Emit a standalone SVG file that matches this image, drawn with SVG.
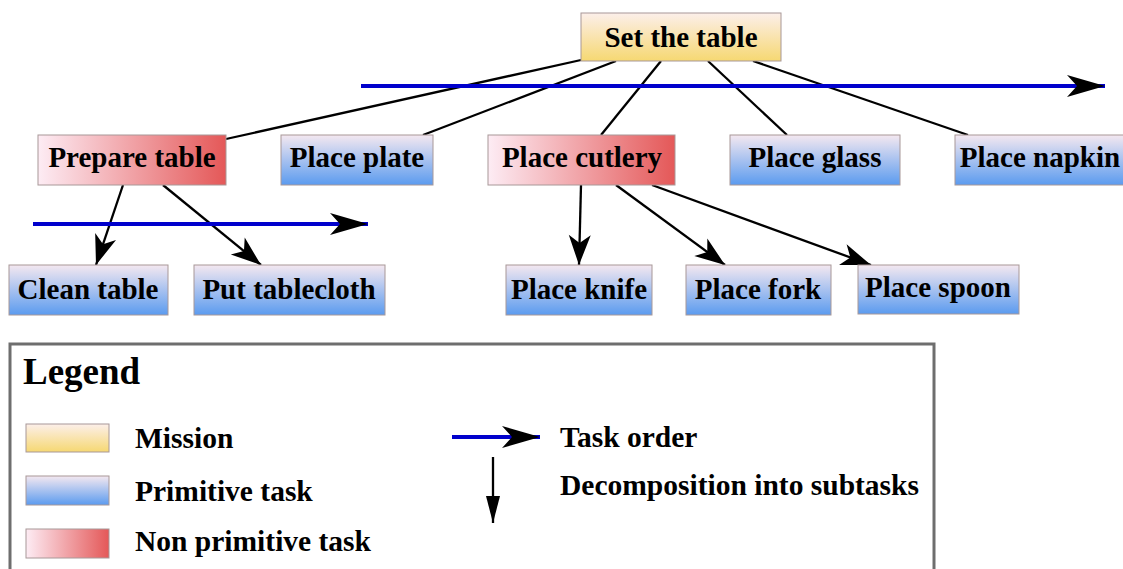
<svg xmlns="http://www.w3.org/2000/svg" width="1123" height="569" viewBox="0 0 1123 569">
  <defs>
    <linearGradient id="gMission" x1="0" y1="0" x2="0" y2="1">
      <stop offset="0" stop-color="#fcefea"/>
      <stop offset="1" stop-color="#f6d872"/>
    </linearGradient>
    <linearGradient id="gPrim" x1="0" y1="0" x2="0" y2="1">
      <stop offset="0" stop-color="#f4e8f0"/>
      <stop offset="1" stop-color="#5b9bef"/>
    </linearGradient>
    <linearGradient id="gNonPrim" x1="0" y1="0" x2="1" y2="0">
      <stop offset="0" stop-color="#fdecf4"/>
      <stop offset="1" stop-color="#e45858"/>
    </linearGradient>
    <marker id="headDecomp" markerUnits="userSpaceOnUse" markerWidth="32" markerHeight="24" viewBox="-32 -12 32 24" refX="0" refY="0" orient="auto">
      <path d="M0,0 L-30,-11 L-22,0 L-30,11 Z" fill="#000"/>
    </marker>
    <marker id="headOrder" markerUnits="userSpaceOnUse" markerWidth="40" markerHeight="24" viewBox="-40 -12 40 24" refX="0" refY="0" orient="auto">
      <path d="M0,0 L-38,-11 L-28,0 L-38,11 Z" fill="#000"/>
    </marker>
    <marker id="headLegendDown" markerUnits="userSpaceOnUse" markerWidth="28" markerHeight="16" viewBox="-28 -8 28 16" refX="0" refY="0" orient="auto">
      <path d="M0,0 L-27,-7 L-27,7 Z" fill="#000"/>
    </marker>
  </defs>
  <style>
    .lbl { font-family: "Liberation Serif", "Times New Roman", serif; font-weight: bold; font-size: 29px; fill: #000; text-anchor: middle; }
    .leg { font-family: "Liberation Serif", "Times New Roman", serif; font-weight: bold; font-size: 29.5px; fill: #000; }
    .title { font-size: 37px; }
    .box { stroke: #a89898; stroke-width: 1; }
    .mission { fill: url(#gMission); }
    .prim { fill: url(#gPrim); }
    .nonprim { fill: url(#gNonPrim); }
    .edge { stroke: #000; stroke-width: 2.3; fill: none; }
    .order { stroke: #0000cc; stroke-width: 4; fill: none; }
  </style>

  <rect width="1123" height="569" fill="#fff"/>

  <!-- connectors -->
  <g id="connectors">
    <!-- mission to its subtasks (plain lines) -->
    <line class="edge" x1="581" y1="60" x2="226" y2="139"/>
    <line class="edge" x1="616" y1="61" x2="423" y2="135"/>
    <line class="edge" x1="661" y1="61" x2="601" y2="135"/>
    <line class="edge" x1="708" y1="61" x2="787" y2="135"/>
    <line class="edge" x1="753" y1="61" x2="968" y2="135"/>
    <!-- decompositions with arrowheads -->
    <line class="edge" x1="123" y1="185" x2="96" y2="265" marker-end="url(#headDecomp)"/>
    <line class="edge" x1="163" y1="185" x2="261" y2="265" marker-end="url(#headDecomp)"/>
    <line class="edge" x1="581" y1="185" x2="579" y2="265" marker-end="url(#headDecomp)"/>
    <line class="edge" x1="616" y1="185" x2="725" y2="265" marker-end="url(#headDecomp)"/>
    <line class="edge" x1="652" y1="185" x2="871" y2="265" marker-end="url(#headDecomp)"/>
    <!-- task order arrows -->
    <line class="order" x1="361" y1="86" x2="1105" y2="86" marker-end="url(#headOrder)"/>
    <line class="order" x1="33" y1="224" x2="368" y2="224" marker-end="url(#headOrder)"/>
  </g>

  <g id="set-the-table">
    <rect class="box mission" x="581" y="13" width="200" height="48"/>
    <text class="lbl" x="681" y="47">Set the table</text>
  </g>
  <g id="prepare-table">
    <rect class="box nonprim" x="38" y="135" width="188" height="50"/>
    <text class="lbl" x="132" y="167">Prepare table</text>
  </g>
  <g id="place-plate">
    <rect class="box prim" x="281" y="135" width="152" height="50"/>
    <text class="lbl" x="357" y="167">Place plate</text>
  </g>
  <g id="place-cutlery">
    <rect class="box nonprim" x="488" y="135" width="187" height="50"/>
    <text class="lbl" x="582" y="167">Place cutlery</text>
  </g>
  <g id="place-glass">
    <rect class="box prim" x="730" y="135" width="170" height="50"/>
    <text class="lbl" x="815" y="167">Place glass</text>
  </g>
  <g id="place-napkin">
    <rect class="box prim" x="955" y="135" width="170" height="50"/>
    <text class="lbl" x="1040" y="167">Place napkin</text>
  </g>
  <g id="clean-table">
    <rect class="box prim" x="9" y="265" width="159" height="50"/>
    <text class="lbl" x="88" y="299">Clean table</text>
  </g>
  <g id="put-tablecloth">
    <rect class="box prim" x="194" y="265" width="191" height="50"/>
    <text class="lbl" x="289" y="299">Put tablecloth</text>
  </g>
  <g id="place-knife">
    <rect class="box prim" x="506" y="265" width="146" height="50"/>
    <text class="lbl" x="579" y="299">Place knife</text>
  </g>
  <g id="place-fork">
    <rect class="box prim" x="686" y="265" width="145" height="50"/>
    <text class="lbl" x="758" y="299">Place fork</text>
  </g>
  <g id="place-spoon">
    <rect class="box prim" x="858" y="265" width="161" height="49"/>
    <text class="lbl" x="938" y="297">Place spoon</text>
  </g>

  <!-- legend panel -->
  <g id="legend">
    <rect x="10" y="344" width="924" height="240" fill="#fff" stroke="#6e6e6e" stroke-width="3"/>
    <text class="leg title" x="23" y="384">Legend</text>
    <rect class="box mission" x="26" y="424" width="83" height="28"/>
    <text class="leg" x="135" y="448">Mission</text>
    <rect class="box prim" x="26" y="476" width="83" height="29"/>
    <text class="leg" x="135" y="501">Primitive task</text>
    <rect class="box nonprim" x="26" y="529" width="83" height="29"/>
    <text class="leg" x="135" y="551">Non primitive task</text>
    <line class="order" x1="452" y1="437" x2="540" y2="437" marker-end="url(#headOrder)"/>
    <text class="leg" x="560" y="447">Task order</text>
    <line class="edge" x1="493" y1="457" x2="493" y2="523" marker-end="url(#headLegendDown)"/>
    <text class="leg" x="560" y="495">Decomposition into subtasks</text>
  </g>
</svg>
